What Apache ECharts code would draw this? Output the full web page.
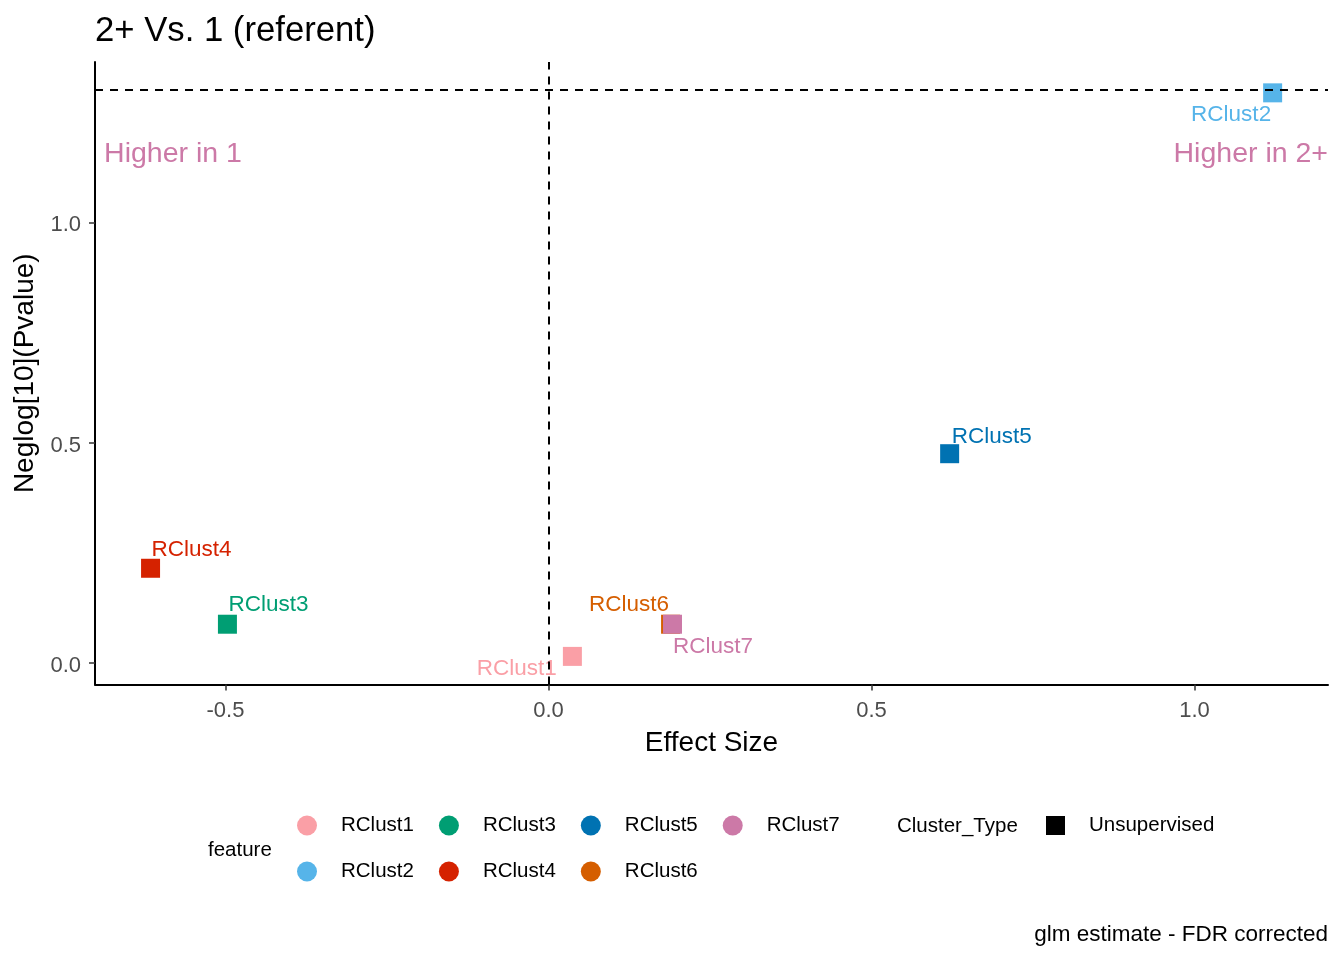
<!DOCTYPE html>
<html>
<head>
<meta charset="utf-8">
<title>2+ Vs. 1 (referent)</title>
<script src="https://cdn.jsdelivr.net/npm/echarts@6/dist/echarts.min.js"></script>
<style>
  html, body { margin: 0; padding: 0; background: #fff; }
  #chart { width: 1344px; height: 960px; }
</style>
</head>
<body>
<div id="chart"></div>
<script>
// Données
const features = ["RClust1", "RClust2", "RClust3", "RClust4", "RClust5", "RClust6", "RClust7"];
const effectSize = [0.037, 1.121, -0.497, -0.616, 0.621, 0.189, 0.192];
const negLogP = [0.015, 1.294, 0.088, 0.215, 0.475, 0.088, 0.088];
const clusterTypes = ["Unsupervised"];
const xTicks = [-0.5, 0, 0.5, 1];
const yTicks = [0, 0.5, 1];
const pThreshold = 1.301; // -log10(0.05)
const annotations = ["Higher in 1", "Higher in 2+"];
const annotationX = [-0.688, 1.2067];
const annotationY = [1.155, 1.155];

// Styles
const featureColors = ["#FA9FA6", "#56B4E9", "#009E73", "#D52200", "#0072B2", "#D55E00", "#CC79A7"];
const FONT = "'Liberation Sans', Arial, sans-serif";

// Placement des étiquettes (façon ggrepel), en pixels par rapport au centre du point
const labelLayout = [
  { align: "right", offset: [-15.5, 12.5] },
  { align: "right", offset: [-1.5, 22] },
  { align: "left", offset: [1, -19] },
  { align: "left", offset: [1, -18] },
  { align: "left", offset: [2, -17] },
  { align: "right", offset: [-1.5, -19] },
  { align: "left", offset: [0.5, 23] },
];

const legendBase = {
  orient: "horizontal",
  padding: 0,
  itemGap: 25,
  selectedMode: false,
  textStyle: { fontFamily: FONT, fontSize: 20.5, color: "#000", padding: [0, 0, 0, 19] },
};

const featureSeries = features.map((name, i) => ({
  name: name,
  type: "scatter",
  symbol: "rect",
  symbolSize: 19,
  itemStyle: { color: featureColors[i], opacity: 1 },
  label: {
    show: true,
    position: "inside",
    formatter: name,
    align: labelLayout[i].align,
    verticalAlign: "middle",
    offset: labelLayout[i].offset,
    fontFamily: FONT,
    fontSize: 22.5,
    color: featureColors[i],
  },
  emphasis: { disabled: true },
  data: [[effectSize[i], negLogP[i]]],
  markLine:
    i === 0
      ? {
          silent: true,
          symbol: "none",
          label: { show: false },
          lineStyle: { color: "#000", type: [8, 7], width: 2, opacity: 1 },
          data: [{ xAxis: 0 }, { yAxis: pThreshold }],
        }
      : undefined,
}));

const option = {
  backgroundColor: "#fff",
  animation: false,
  textStyle: { fontFamily: FONT },
  title: [
    {
      text: "2+ Vs. 1 (referent)",
      left: 95,
      top: 14,
      padding: 0,
      textStyle: { fontFamily: FONT, fontSize: 34.7, fontWeight: "normal", color: "#000" },
    },
    {
      text: "feature",
      left: 208,
      top: 840,
      padding: 0,
      textStyle: { fontFamily: FONT, fontSize: 20.5, fontWeight: "normal", color: "#000" },
    },
    {
      text: "Cluster_Type",
      left: 897,
      top: 816,
      padding: 0,
      textStyle: { fontFamily: FONT, fontSize: 20.5, fontWeight: "normal", color: "#000" },
    },
    {
      text: "glm estimate - FDR corrected",
      right: 16,
      top: 923,
      padding: 0,
      textStyle: { fontFamily: FONT, fontSize: 22.5, fontWeight: "normal", color: "#000" },
    },
  ],
  legend: [
    Object.assign({}, legendBase, {
      data: features.filter((f, i) => i % 2 === 0),
      left: 297,
      top: 815,
      icon: "circle",
      itemWidth: 20,
      itemHeight: 20,
    }),
    Object.assign({}, legendBase, {
      data: features.filter((f, i) => i % 2 === 1),
      left: 297,
      top: 861,
      icon: "circle",
      itemWidth: 20,
      itemHeight: 20,
    }),
    Object.assign({}, legendBase, {
      data: clusterTypes,
      left: 1046,
      top: 815,
      icon: "rect",
      itemWidth: 19,
      itemHeight: 19,
    }),
  ],
  grid: { left: 95, right: 16, top: 62, bottom: 275.5, containLabel: false },
  xAxis: {
    type: "value",
    min: -0.702,
    max: 1.2067,
    name: "Effect Size",
    nameLocation: "middle",
    nameGap: 45,
    nameTextStyle: { fontFamily: FONT, fontSize: 28, color: "#000" },
    axisLine: { show: true, onZero: false, lineStyle: { color: "#000", width: 2 } },
    axisTick: { show: true, length: 6, customValues: xTicks, lineStyle: { color: "#333", width: 1.5 } },
    axisLabel: {
      customValues: xTicks,
      margin: 15,
      fontFamily: FONT,
      fontSize: 22,
      color: "#4D4D4D",
      formatter: (v) => v.toFixed(1),
    },
    splitLine: { show: false },
  },
  yAxis: {
    type: "value",
    min: -0.0488,
    max: 1.364,
    name: "Neglog[10](Pvalue)",
    nameLocation: "middle",
    nameGap: 48,
    nameTextStyle: { fontFamily: FONT, fontSize: 28, color: "#000" },
    axisLine: { show: true, onZero: false, lineStyle: { color: "#000", width: 2 } },
    axisTick: { show: true, length: 6, customValues: yTicks, lineStyle: { color: "#333", width: 1.5 } },
    axisLabel: {
      customValues: yTicks,
      margin: 14,
      formatter: (v) => "{t|" + v.toFixed(1) + "}",
      rich: {
        t: {
          fontFamily: FONT,
          fontSize: 22,
          color: "#4D4D4D",
          padding: [6, 0, 0, 0],
        },
      },
    },
    splitLine: { show: false },
  },
  series: featureSeries.concat([
    {
      name: clusterTypes[0],
      type: "scatter",
      symbol: "rect",
      itemStyle: { color: "#000", opacity: 1 },
      data: [],
    },
    {
      name: "annotations",
      type: "scatter",
      symbolSize: 0,
      silent: true,
      itemStyle: { opacity: 1 },
      data: annotations.map((t, i) => ({
        value: [annotationX[i], annotationY[i]],
        name: t,
        label: { align: i === 0 ? "left" : "right" },
      })),
      label: {
        show: true,
        position: "inside",
        formatter: (p) => p.name,
        verticalAlign: "middle",
        fontFamily: FONT,
        fontSize: 28.5,
        color: "#CC79A7",
      },
    },
  ]),
};

const chart = echarts.init(document.getElementById("chart"));
chart.setOption(option);
</script>
</body>
</html>
